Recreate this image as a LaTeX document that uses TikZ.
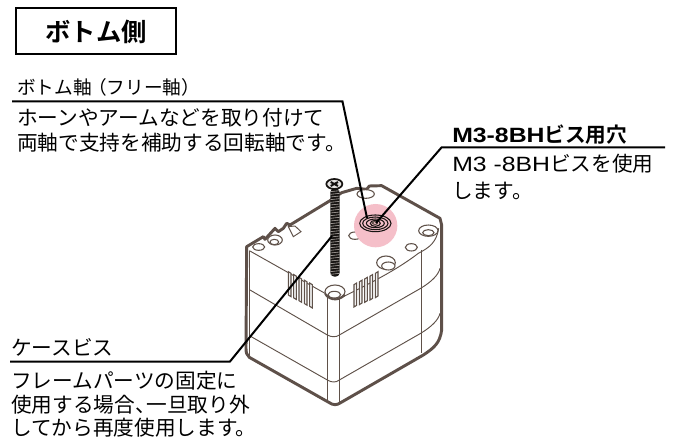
\documentclass[tikz,border=0pt]{standalone}
\usepackage{fontspec}
\setmainfont{Noto Sans CJK JP}[BoldFont={Noto Sans CJK JP Bold}]
\newfontfamily\latinf[FakeStretch=1.2]{Liberation Sans}
\definecolor{body}{HTML}{5E5049}
\definecolor{finecol}{HTML}{5F5149}
\definecolor{pinkspot}{HTML}{F5BFC9}
\tikzset{
  txt/.style={anchor=west,inner sep=0pt,font=\fontsize{15.5pt}{18pt}\selectfont,text=black},
  small/.style={anchor=west,inner sep=0pt,font=\fontsize{14pt}{18pt}\selectfont,text=black},
  leader/.style={draw=black,line width=1.5pt,line join=miter},
  outl/.style={draw=body,line width=2.2pt,line join=round,fill=white},
  fine/.style={draw=finecol,line width=0.7pt},
  hole/.style={draw=finecol,line width=0.8pt,fill=white},
  vent/.style={draw=finecol,line width=0.8pt,fill=black!6},
}
\begin{document}
\begin{tikzpicture}[x=0.75pt,y=-0.75pt]
\useasboundingbox (0,0) rectangle (673,441);
\node[draw=black,line width=1.5pt,inner sep=0pt,anchor=north west,minimum width=120pt,minimum height=34.5pt] (title) at (15,7.5) {\fontsize{19pt}{20pt}\selectfont\bfseries ボトム側};
\node[small] (t1) at (17,87) {ボトム軸\kern-.2em（フリー軸）};
\node[txt] (t2) at (17,118) {ホーンやアームなどを取り付けて};
\node[txt] (t3) at (17,143) {両軸で支持を補助する回転軸です。};
\node[txt] (t4) at (452,135) {\bfseries{\latinf M3-8BH}ビス用穴};
\node[txt] (t5) at (452,164) {{\latinf M3 -8BH}ビスを使用};
\node[txt] (t6) at (452,191) {します。};
\node[txt] (t7) at (11,347) {ケースビス};
\node[txt] (t8) at (11,381) {フレームパーツの固定に};
\node[txt] (t9) at (11,405) {使用する場合、\kern-.45em 一旦取り外};
\node[txt] (t10) at (11,428) {してから再度使用します。};

\begin{scope}[shift={(210,160)},scale=0.33333]
% body
\draw[outl] (110,260) -- (160,230) -- (165,238) -- (195,205) -- (205,215) -- (220,205) -- (230,190) -- (240,195) -- (360,122) -- (395,98) -- (440,85) -- (470,88) -- (478,78) -- (515,77) -- (690,175) -- (695,195) -- (695,510) .. controls (690,550) and (670,565) .. (640,585) -- (392,728) .. controls (380,736) and (370,736) .. (358,728) -- (118,592) .. controls (110,585) and (108,578) .. (108,565) -- cycle;
% top face front edges
\draw[fine] (118,272) -- (345,400);
\draw[fine] (400,410) .. controls (480,370) and (560,330) .. (625,280) .. controls (660,262) and (680,245) .. (686,205);
\draw[fine] (120,390) -- (352,525) .. controls (365,532) and (378,532) .. (388,525) -- (632,385) .. controls (665,365) and (685,345) .. (690,325);
\draw[fine] (120,528) -- (352,660) .. controls (365,668) and (378,668) .. (388,660) -- (632,520) .. controls (665,500) and (685,480) .. (690,460);
\draw[fine] (353,412) -- (353,725);
\draw[fine] (388,412) -- (388,725);
\draw[fine] (634,270) -- (634,580);
\draw[fine] (118,272) -- (118,590);
% notch on back left
\draw[fine,fill=white] (235,200) -- (255,198) -- (273,215) -- (250,230) -- cycle;
% holes
\draw[hole] (195,240) ellipse (22 and 15);
\draw[hole] (193,246) ellipse (13 and 8);
\draw[hole] (146,261) ellipse (18 and 10);
\draw[hole] (467,102) ellipse (26 and 13);
\draw[hole] (655,212) ellipse (29 and 17);
\draw[hole] (655,218) ellipse (17 and 9);
\draw[hole] (435,227) ellipse (19 and 11);
\draw[hole] (604,262) ellipse (18 and 11);
\draw[hole] (528,308) ellipse (28 and 20);
\draw[hole] (535,318) ellipse (20 and 12);
\draw[hole] (375,395) ellipse (30 and 20);
\draw[hole] (373,404) ellipse (19 and 10);
\draw[body,line width=1.4pt] (345,400) .. controls (350,415) and (380,430) .. (405,405);
% vents
\foreach \k in {0,1,2,3,4}{
  \draw[vent] ({235+\k*16},{335+\k*8.5}) -- ({235+\k*16},{405+\k*8.5}) -- ({243+\k*16},{410+\k*8.5}) -- ({243+\k*16},{340+\k*8.5}) -- cycle;
  \draw[vent] ({432+\k*16},{374-\k*8.5}) -- ({432+\k*16},{441-\k*7}) -- ({440+\k*16},{436-\k*7}) -- ({440+\k*16},{369-\k*8.5}) -- cycle;
}
% pink spot and concentric rings
\fill[pinkspot] (497,197) circle (65);
\foreach \rra/\rrb in {47/25,38/19,27/13,15/9}{
  \draw[draw=black!75!body,line width=0.8pt] (496,190) ellipse [x radius=\rra,y radius=\rrb];
}
\fill[body] (495,189) ellipse (10 and 6);
\fill[pinkspot] (495,189) ellipse (5 and 3);
% screw
\fill[black!75!body,rounded corners=3pt] (361,85) rectangle (389,350);
\foreach \yy in {92,100,...,344}{
  \draw[white!50!body,line width=0.45pt] (361,\yy+3) -- (389,\yy);
}
\draw[draw=black!75!body,line width=1.3pt,fill=white!85!body] (373,72) ellipse (24 and 15);
\draw[black!80!body,line width=1.5pt] (362,66) -- (384,78) (384,66) -- (362,78);
\end{scope}

% leaders
\coordinate (e1a) at (12,101.5);
\coordinate (e1b) at (342.5,101.5);
\coordinate (e1c) at (367,218);
\coordinate (e2a) at (665,147.5);
\coordinate (e2b) at (441.5,147.5);
\coordinate (e2c) at (376,223);
\coordinate (e3a) at (10,361.5);
\coordinate (e3b) at (230,361.5);
\coordinate (e3c) at (332,236);
\draw[leader] (e1a) -- (e1b) -- (e1c);
\draw[leader] (e2a) -- (e2b) -- (e2c);
\draw[leader] (e3a) -- (e3b) -- (e3c);
\end{tikzpicture}
\end{document}
